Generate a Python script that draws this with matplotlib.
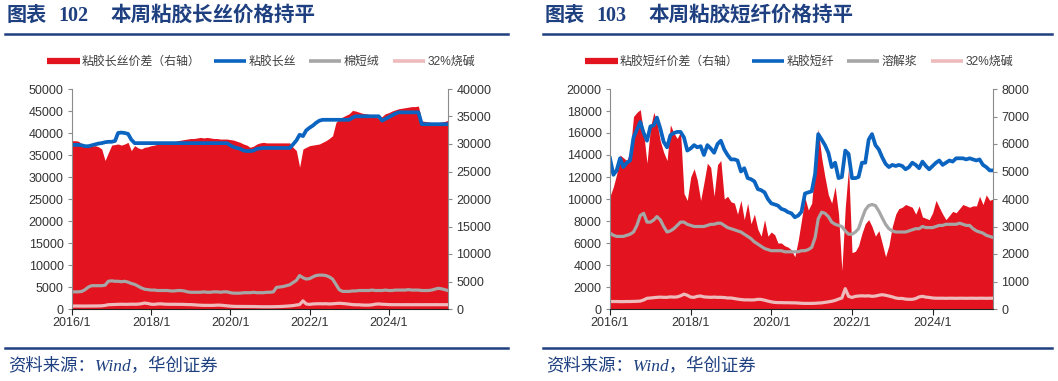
import pandas as pd
import matplotlib.pyplot as plt
from matplotlib.lines import Line2D

# monthly points, 2016/1 .. 2025/7
dates = pd.date_range("2016-01-01", periods=115, freq="MS")
year_ticks = ["2016-01-01", "2018-01-01", "2020-01-01", "2022-01-01", "2024-01-01"]

# ---- chart 102: viscose filament ----
filament_price = [
    37300, 37300, 37300, 37200, 37000, 37000, 37200, 37400, 37600, 37700,
    37900, 38000, 38000, 38200, 40000, 40100, 40000, 39800, 38500, 37700,
    37700, 37700, 37700, 37700, 37700, 37700, 37700, 37700, 37700, 37700,
    37700, 37700, 37700, 37700, 37700, 37700, 37700, 37700, 37700, 37700,
    37700, 37700, 37700, 37700, 37700, 37700, 37700, 37700, 37200, 36800,
    36600, 36400, 36000, 35900, 35900, 36000, 36400, 36500, 36600, 36600,
    36600, 36600, 36600, 36600, 36600, 36600, 36600, 37400, 38300, 39600,
    39300, 40600, 41200, 41700, 42300, 42800, 43000, 43000, 43000, 43000,
    43000, 43000, 43000, 43000, 43000, 43500, 43800, 43800, 43800, 43800,
    43800, 43800, 43800, 43800, 42800, 43200, 43600, 44000, 44400, 44700,
    44700, 44700, 44700, 44700, 44700, 44700, 42000, 42000, 42000, 42000,
    42000, 42000, 42000, 42000, 42000,
]
filament_spread = [  # right axis
    30600, 30600, 30500, 30000, 29700, 29700, 29600, 29700, 29500, 29100,
    27000, 28400, 29800, 29900, 30000, 29800, 30000, 30300, 28800, 29700,
    29300, 29100, 29400, 29500, 29700, 29800, 30000, 30000, 30200, 30200,
    30300, 30400, 30600, 30700, 30800, 30900, 31000, 31000, 31100, 31200,
    31100, 31200, 31100, 31000, 31000, 30900, 30900, 30900, 30800, 30700,
    30500, 30300, 30000, 29800, 29400, 29600, 30000, 30200, 30300, 30200,
    30200, 30200, 30200, 30200, 30200, 30200, 30200, 29400, 28800, 25800,
    29100, 29400, 29700, 29800, 29900, 30000, 30300, 30600, 31000, 31500,
    33900, 34600, 34900, 35200, 35500, 36100, 36000, 35800, 35600, 35500,
    35400, 35300, 35000, 34600, 35000, 35500, 35700, 36000, 36200, 36400,
    36500, 36600, 36700, 36800, 36800, 36900, 34200, 34100, 34000, 33900,
    33900, 33900, 34000, 34100, 34300,
]
cotton_linter = [
    3900, 3900, 3900, 4000, 4400, 5000, 5300, 5300, 5300, 5300,
    5400, 6300, 6400, 6300, 6300, 6200, 6300, 6100, 5800, 5600,
    5200, 4800, 4500, 4400, 4300, 4300, 4200, 4200, 4200, 4200,
    4100, 4100, 4200, 4200, 4100, 3900, 3800, 3800, 3800, 3800,
    3900, 3800, 3800, 3900, 3900, 3800, 3900, 3900, 3700, 3600,
    3600, 3600, 3700, 3700, 3700, 3800, 3700, 3700, 3700, 3800,
    3800, 3900, 4900, 5000, 5100, 5300, 5500, 6000, 6500, 7600,
    7100, 6800, 6900, 7300, 7600, 7700, 7700, 7600, 7300, 6800,
    5600, 4400, 4000, 4000, 4000, 4100, 4100, 4200, 4200, 4200,
    4200, 4300, 4200, 4200, 4200, 4300, 4200, 4200, 4300, 4300,
    4300, 4300, 4400, 4300, 4300, 4300, 4200, 4200, 4200, 4300,
    4500, 4700, 4600, 4400, 4200,
]

# ---- chart 103: viscose staple fibre ----
staple_price = [
    13700, 12200, 12600, 13700, 12900, 13300, 13500, 15600, 16300, 17000, 16000, 15300,
    16600, 16700, 17400, 16400, 15200, 14700, 15800, 16000, 16100, 16100, 15600, 14400,
    14600, 14900, 14700, 14800, 14000, 14900, 14600, 14200, 15000, 15300, 14500, 14000,
    13600, 13600, 13500, 12500, 12800, 11900, 11800, 11600, 10900, 10800, 10600, 10000,
    9600, 9500, 9400, 9100, 9000, 8800, 8700, 8340, 8500, 8850, 10500, 10600,
    10700, 12300, 15900, 15400, 14900, 14200, 12900, 13300, 11900, 12000, 14400, 14100,
    11900, 11900, 12000, 13300, 13300, 15400, 15900, 14900, 14500, 13800, 13200, 12900,
    13100, 13000, 13100, 13000, 12700, 12900, 13300, 13100, 12800, 13400, 13000, 12700,
    13000, 13300, 13500, 13100, 13300, 13500, 13400, 13700, 13700, 13700, 13600, 13700,
    13600, 13500, 13600, 13100, 12900, 12600, 12600,
]
staple_spread = [  # right axis
    4100, 4450, 4900, 5600, 5500, 5400, 5700, 7000, 7150, 7250, 6400, 5300,
    6600, 7150, 6800, 6100, 5700, 5400, 6700, 6400, 6200, 6450, 4200, 3950,
    4800, 5100, 4700, 3950, 4600, 5300, 5150, 4100, 5250, 5400, 4000, 4100,
    3900, 3850, 3450, 3950, 3250, 3850, 3100, 3450, 2900, 2650, 3250, 2650,
    2800, 2700, 2400, 2400, 2300, 2250, 2150, 1900, 2500, 3250, 4050, 3600,
    3850, 5300, 6550, 5500, 4800, 4150, 3850, 4450, 3450, 1400, 3700, 5150,
    2050, 2100, 2300, 2750, 3100, 3250, 3000, 2650, 2850, 2400, 1900, 2300,
    3000, 3450, 3650, 3700, 3800, 3750, 3700, 3450, 3750, 3350, 3300, 3250,
    3500, 3950, 3700, 3450, 3250, 3400, 3550, 3500, 3650, 3800, 3750, 3700,
    3750, 3750, 4100, 3800, 4150, 3950, 4000,
]
dissolving_pulp = [
    6900, 6700, 6600, 6600, 6600, 6700, 6800, 7000, 7600, 8500, 8700, 7900,
    7900, 8100, 8400, 8100, 7500, 7000, 7100, 7300, 7600, 7900, 7900, 7700,
    7600, 7500, 7500, 7500, 7500, 7600, 7700, 7700, 7800, 7800, 7600, 7400,
    7300, 7200, 7100, 7000, 6800, 6600, 6400, 6100, 5900, 5700, 5500, 5400,
    5300, 5300, 5300, 5300, 5200, 5200, 5200, 5200, 5200, 5300, 5300, 5400,
    5600, 6500, 8200, 8800, 8700, 8400, 7900, 7700, 7600, 7500, 7100, 6800,
    6800, 7000, 7300, 8200, 9000, 9400, 9500, 9400, 8900, 8300, 7700, 7300,
    7100, 7000, 7000, 7000, 7000, 7100, 7200, 7300, 7300, 7500, 7400, 7400,
    7400, 7500, 7600, 7600, 7700, 7700, 7700, 7700, 7800, 7700, 7600, 7600,
    7300, 7100, 7000, 6900, 6700, 6600, 6500,
]

# 32% caustic soda, shown in both charts
caustic_soda = [
    680, 680, 680, 670, 670, 680, 680, 690, 700, 720,
    820, 970, 1000, 1030, 1060, 1080, 1060, 1060, 1100, 1080,
    1100, 1200, 1350, 1250, 1080, 1060, 1150, 1180, 1100, 1080,
    1060, 1080, 1060, 1060, 1040, 1000, 1000, 950, 900, 860,
    830, 830, 820, 830, 880, 870, 800, 720, 650, 600,
    580, 580, 570, 570, 560, 560, 540, 520, 510, 510,
    510, 520, 540, 560, 600, 650, 700, 780, 900, 1000,
    1850, 1150, 1050, 1150, 1180, 1200, 1180, 1200, 1150, 1180,
    1250, 1300, 1250, 1180, 1100, 1000, 960, 960, 900, 880,
    880, 950, 1100, 1150, 1080, 1050, 1000, 980, 980, 980,
    970, 980, 980, 970, 980, 980, 970, 980, 980, 970,
    980, 980, 970, 980, 980,
]

RED = "#E3141F"
BLUE = "#0B64C0"
GRAY = "#A6A6A6"
PINK = "#EEBBBD"
NAVY = "#1E4080"
TXT = "#333333"
SANS = ["Liberation Sans", "Noto Sans CJK SC"]
SERIF = ["Liberation Serif", "Noto Sans CJK SC"]

W, H = 1058, 381
fig = plt.figure(figsize=(W / 100, H / 100), dpi=100)


def px(x0, y0, x1, y1):
    return [x0 / W, 1 - y1 / H, (x1 - x0) / W, (y1 - y0) / H]


def panel(box, spread, price, third, lmax, lstep, rmax, rstep):
    ax = fig.add_axes(px(*box))
    ax2 = ax.twinx()
    ax2.fill_between(dates, 0, spread, color=RED, lw=0)
    ax.plot(dates, caustic_soda, color=PINK, lw=2.3, solid_joinstyle="round")
    ax.plot(dates, third, color=GRAY, lw=2.3, solid_joinstyle="round")
    ax.plot(dates, price, color=BLUE, lw=2.7, solid_joinstyle="round")
    ax.set_zorder(ax2.get_zorder() + 1)
    ax.patch.set_visible(False)

    ax.set_xlim(dates[0], dates[-1])
    ax.set_ylim(0, lmax)
    ax2.set_ylim(0, rmax)
    ax.set_yticks(range(0, lmax + 1, lstep))
    ax2.set_yticks(range(0, rmax + 1, rstep))
    ticks = pd.to_datetime(year_ticks)
    ax.set_xticks(ticks)
    ax.set_xticklabels([f"{d.year}/{d.month}" for d in ticks])

    for a in (ax, ax2):
        a.spines["top"].set_visible(False)
    ax.spines["right"].set_visible(False)
    ax2.spines["left"].set_visible(False)
    ax2.spines["bottom"].set_visible(False)
    ax.spines["left"].set_color("#8C8C8C")
    ax2.spines["right"].set_color("#8C8C8C")
    ax.spines["bottom"].set_color("#222222")
    ax.tick_params(axis="y", length=3, color="#8C8C8C", labelsize=9, labelcolor=TXT, pad=3)
    ax2.tick_params(axis="y", length=3, color="#8C8C8C", labelsize=9, labelcolor=TXT, pad=3)
    ax.tick_params(axis="x", length=4, color="#222222", labelsize=9, labelcolor=TXT, pad=2)
    for lab in ax.get_xticklabels() + ax.get_yticklabels() + ax2.get_yticklabels():
        lab.set_family(SANS)
    return ax


def header_footer(x0, x1, num, title, names, legend_x):
    fig.text(x0 + 2 / W, 1 - 16 / H, "图表", fontsize=14.5, fontweight="bold",
             color=NAVY, family=SERIF, va="center")
    fig.text(x0 + 53 / W, 1 - 16 / H, num, fontsize=14.5, fontweight="bold",
             color=NAVY, family=SERIF, va="center")
    fig.text(x0 + 105 / W, 1 - 16 / H, title, fontsize=14.8, fontweight="bold",
             color=NAVY, family=SERIF, va="center")
    fig.add_artist(Line2D([x0, x1], [1 - 34 / H, 1 - 34 / H], color=NAVY, lw=1.8))
    fig.add_artist(Line2D([x0, x1], [1 - 348 / H, 1 - 348 / H], color=NAVY, lw=1.8))
    fig.text(x0 + 3 / W, 1 - 367 / H, "资料来源：Wind，华创证券", fontsize=12.5,
             style="italic", color=NAVY, family=SERIF, va="center")

    handles = [
        Line2D([], [], color=RED, lw=4.5, solid_capstyle="butt"),
        Line2D([], [], color=BLUE, lw=2.6, solid_capstyle="butt"),
        Line2D([], [], color=GRAY, lw=2.6, solid_capstyle="butt"),
        Line2D([], [], color=PINK, lw=2.6, solid_capstyle="butt"),
    ]
    leg = fig.legend(handles, names, loc="center", bbox_to_anchor=(legend_x, 1 - 62 / H),
                     ncol=4, frameon=False, handlelength=2.7, handletextpad=0.2,
                     columnspacing=1.1, prop={"family": SANS, "size": 8.6})
    for t in leg.get_texts():
        t.set_color("#404040")


panel((72, 89, 448, 309), filament_spread, filament_price, cotton_linter,
      50000, 5000, 40000, 5000)
header_footer(5 / W, 508 / W, "102", "本周粘胶长丝价格持平",
              ["粘胶长丝价差（右轴）", "粘胶长丝", "棉短绒", "32%烧碱"], 261 / W)

panel((610, 89, 993, 309), staple_spread, staple_price, dissolving_pulp,
      20000, 2000, 8000, 1000)
header_footer(543 / W, 1052 / W, "103", "本周粘胶短纤价格持平",
              ["粘胶短纤价差（右轴）", "粘胶短纤", "溶解浆", "32%烧碱"], 799 / W)

fig.savefig("out.png", dpi=100)
